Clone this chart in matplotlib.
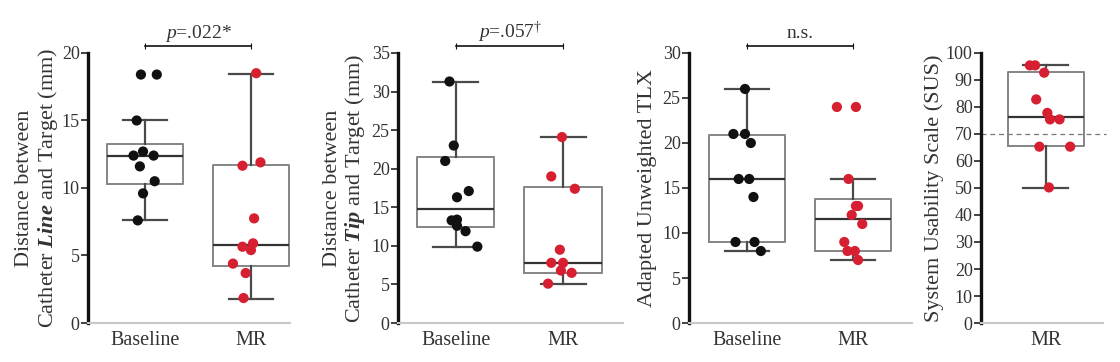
import matplotlib
matplotlib.use('Agg')
import matplotlib.pyplot as plt
import matplotlib.transforms as mtransforms

plt.rcParams['font.family'] = 'serif'
plt.rcParams['font.serif'] = ['Liberation Serif', 'DejaVu Serif']
plt.rcParams['mathtext.fontset'] = 'custom'
plt.rcParams['mathtext.rm'] = 'Liberation Serif'
plt.rcParams['mathtext.it'] = 'Liberation Serif:italic'
plt.rcParams['mathtext.bf'] = 'Liberation Serif:bold'
plt.rcParams['mathtext.bfit'] = 'Liberation Serif:italic:bold'

TEXT = '#333333'
BLACK_PT = '#111111'
RED_PT = '#d62031'

# ---- data ----
groups = ['Baseline', 'MR']

line_baseline = [18.4, 18.4, 15.0, 12.7, 12.4, 12.4, 11.6, 10.5, 9.6, 7.6]
line_baseline_jit = [-0.04, 0.11, -0.08, -0.02, -0.11, 0.08, -0.05, 0.09, -0.02, -0.07]
line_mr = [18.5, 11.65, 11.9, 7.75, 5.65, 5.9, 5.4, 4.4, 3.7, 1.85]
line_mr_jit = [0.05, -0.08, 0.09, 0.03, -0.08, 0.02, 0.0, -0.17, -0.05, -0.07]
line_stats = [  # whislo, q1, med, q3, whishi
    [7.6, 10.27, 12.34, 13.23, 15.0],
    [1.77, 4.24, 5.76, 11.72, 18.47],
]

tip_baseline = [31.3, 23.0, 21.0, 17.1, 16.3, 13.3, 13.4, 12.6, 11.9, 9.9]
tip_baseline_jit = [-0.06, -0.02, -0.10, 0.12, 0.01, -0.04, 0.01, 0.01, 0.09, 0.20]
tip_mr = [24.1, 19.0, 17.4, 9.5, 7.8, 7.8, 6.8, 6.5, 5.1]
tip_mr_jit = [-0.01, -0.11, 0.11, -0.03, -0.11, 0.0, -0.02, 0.08, -0.14]
tip_stats = [
    [9.9, 12.41, 14.83, 21.55, 31.3],
    [5.04, 6.47, 7.72, 17.67, 24.1],
]

tlx_baseline = [26, 21, 21, 20, 16, 16, 14, 9, 9, 8]
tlx_baseline_jit = [-0.02, -0.13, -0.02, 0.035, -0.08, 0.02, 0.06, -0.11, 0.07, 0.13]
tlx_mr = [24, 24, 16, 13, 13, 12, 11, 9, 8, 8, 7]
tlx_mr_jit = [-0.15, 0.03, -0.04, 0.03, 0.05, -0.01, 0.09, -0.08, -0.05, 0.02, 0.05]
tlx_stats = [
    [8.0, 9.0, 15.96, 20.9, 26.0],
    [7.0, 8.0, 11.53, 13.74, 16.0],
]

sus_mr = [95.4, 95.4, 92.7, 82.8, 77.8, 75.4, 75.4, 65.3, 65.3, 50.2]
sus_mr_jit = [-0.15, -0.10, -0.015, -0.09, 0.015, 0.04, 0.13, -0.06, 0.23, 0.03]
sus_stats = [[50.1, 65.5, 76.2, 93.1, 95.4]]
sus_threshold = 70

p_labels = [r'$\mathit{p}$=.022*', r'$\mathit{p}$=.057$^{\dagger}$', 'n.s.']


def draw_box(ax, stats, positions):
    bstats = []
    for s in stats:
        bstats.append({'whislo': s[0], 'q1': s[1], 'med': s[2], 'q3': s[3],
                       'whishi': s[4], 'fliers': []})
    ax.bxp(bstats, positions=positions, widths=0.72, showfliers=False,
           capwidths=0.42,
           boxprops=dict(color='#858585', linewidth=1.4),
           medianprops=dict(color='#333333', linewidth=1.6),
           whiskerprops=dict(color='#4a4a4a', linewidth=1.6),
           capprops=dict(color='#4a4a4a', linewidth=1.6), zorder=2)


def draw_points(ax, pos, vals, jit, color):
    xs = [pos + j for j in jit]
    ax.scatter(xs, vals, s=54, color=color, edgecolor='none', zorder=3, clip_on=False)


def style_axis(ax, ymax, step, xlim, labels):
    ax.set_ylim(0, ymax)
    ax.set_yticks(range(0, ymax + 1, step))
    ax.set_xlim(*xlim)
    ax.set_xticks(range(len(labels)))
    ax.set_xticklabels(labels, fontsize=14.5, color=TEXT)
    ax.tick_params(axis='x', length=0, pad=6)
    ax.tick_params(axis='y', length=5, width=1.2, color='#222222',
                   labelsize=13, labelcolor=TEXT, pad=1)
    for sp in ['top', 'right']:
        ax.spines[sp].set_visible(False)
    ax.spines['left'].set_color('#111111')
    ax.spines['left'].set_linewidth(2.4)
    ax.spines['bottom'].set_color('#c8c8c8')
    ax.spines['bottom'].set_linewidth(1.5)


def bracket(ax, label):
    tr = mtransforms.blended_transform_factory(ax.transData, ax.transAxes)
    ax.plot([0, 1], [1.024, 1.024], color='#111111', lw=1.2, transform=tr,
            clip_on=False)
    ax.plot([0, 1], [1.024, 1.024], color='#111111', lw=0, marker='|',
            markersize=4, markeredgewidth=0.8, transform=tr, clip_on=False)
    ax.text(0.5, 1.055, label, transform=tr, ha='center', va='baseline',
            fontsize=14, color=TEXT)


fig = plt.figure(figsize=(11.2, 3.62), dpi=100)
bottom, height = 0.1077, 0.746

# panel 1: catheter line
ax1 = fig.add_axes([0.0786, bottom, 0.1804, height])
draw_box(ax1, line_stats, [0, 1])
draw_points(ax1, 0, line_baseline, line_baseline_jit, BLACK_PT)
draw_points(ax1, 1, line_mr, line_mr_jit, RED_PT)
style_axis(ax1, 20, 5, (-0.54, 1.37), groups)
ax1.set_ylabel('Distance between\nCatheter $\\mathbfit{Line}$ and Target (mm)',
               fontsize=16, color=TEXT, labelpad=1, linespacing=1.1)
bracket(ax1, p_labels[0])

# panel 2: catheter tip
ax2 = fig.add_axes([0.3554, bottom, 0.2009, height])
draw_box(ax2, tip_stats, [0, 1])
draw_points(ax2, 0, tip_baseline, tip_baseline_jit, BLACK_PT)
draw_points(ax2, 1, tip_mr, tip_mr_jit, RED_PT)
style_axis(ax2, 35, 5, (-0.54, 1.56), groups)
ax2.set_ylabel('Distance between\nCatheter $\\mathbfit{Tip}$ and Target (mm)',
               fontsize=16, color=TEXT, labelpad=3, linespacing=1.1)
bracket(ax2, p_labels[1])

# panel 3: TLX
ax3 = fig.add_axes([0.6152, bottom, 0.199, height])
draw_box(ax3, tlx_stats, [0, 1])
draw_points(ax3, 0, tlx_baseline, tlx_baseline_jit, BLACK_PT)
draw_points(ax3, 1, tlx_mr, tlx_mr_jit, RED_PT)
style_axis(ax3, 30, 5, (-0.55, 1.56), groups)
ax3.set_ylabel('Adapted Unweighted TLX', fontsize=16, color=TEXT, labelpad=4)
bracket(ax3, p_labels[2])

# panel 4: SUS
ax4 = fig.add_axes([0.8759, bottom, 0.109, height])
ax4.axhline(sus_threshold, xmin=0, xmax=1.02, color='#777777', lw=0.9,
            ls=(0, (4, 3)), zorder=1, clip_on=False)
draw_box(ax4, sus_stats, [0])
draw_points(ax4, 0, sus_mr, sus_mr_jit, RED_PT)
style_axis(ax4, 100, 10, (-0.61, 0.54), ['MR'])
ax4.set_ylabel('System Usability Scale (SUS)', fontsize=16, color=TEXT, labelpad=1)

fig.savefig('out.png', dpi=100)
